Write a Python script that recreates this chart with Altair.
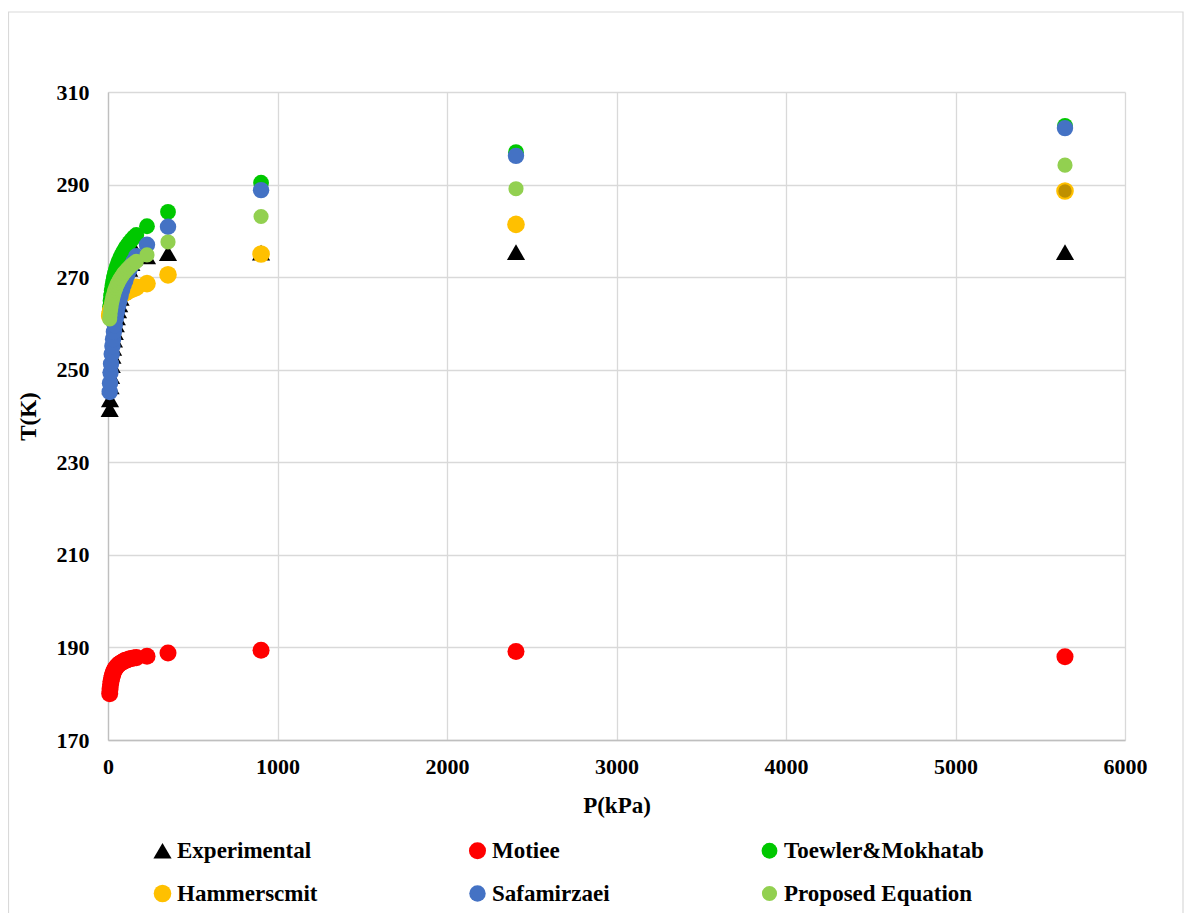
import altair as alt
import pandas as pd

# Pressure (kPa) shared by all series
P = [10, 12, 15, 18, 22, 26, 30, 35, 40, 46, 52, 59, 66, 74, 83, 92, 102, 113,
     125, 138, 152, 167, 230, 354, 903, 2407, 5646]

experimental = [241.5, 243.6, 246.4, 248.6, 251.0, 253.0, 254.7, 256.5, 258.1, 259.8,
                261.3, 262.8, 264.1, 265.5, 266.9, 268.1, 269.4, 270.6, 271.8, 273.0,
                274.2, 275.3, 274.5, 275.2, 275.3, 275.4, 275.4]
motiee = [180.0, 181.0, 182.0, 182.7, 183.4, 184.0, 184.4, 184.9, 185.3, 185.6,
          185.9, 186.2, 186.4, 186.6, 186.8, 187.0, 187.2, 187.3, 187.5, 187.6,
          187.7, 187.8, 188.1, 188.8, 189.4, 189.1, 188.0]
toewler = [262.5, 263.6, 264.9, 266.0, 267.1, 268.1, 269.0, 269.9, 270.7, 271.5,
           272.2, 273.0, 273.6, 274.3, 275.0, 275.6, 276.2, 276.8, 277.4, 278.0,
           278.6, 279.1, 281.0, 284.1, 290.4, 297.0, 302.7]
hammerscmit = [261.6, 262.0, 262.5, 262.9, 263.3, 263.7, 264.0, 264.4, 264.7, 265.0,
               265.2, 265.5, 265.8, 266.0, 266.3, 266.5, 266.7, 266.9, 267.2, 267.4,
               267.6, 267.8, 268.6, 270.5, 275.0, 281.4, 288.6]
safamirzaei = [245.2, 247.1, 249.4, 251.3, 253.4, 255.1, 256.6, 258.2, 259.6, 261.1,
               262.4, 263.7, 264.8, 266.0, 267.2, 268.3, 269.3, 270.4, 271.5, 272.5,
               273.5, 274.5, 277.0, 280.9, 288.8, 296.2, 302.2]
proposed = [261.0, 261.8, 262.8, 263.6, 264.5, 265.2, 265.8, 266.5, 267.1, 267.7,
            268.3, 268.8, 269.3, 269.8, 270.3, 270.8, 271.2, 271.7, 272.1, 272.6,
            273.0, 273.4, 274.8, 277.6, 283.1, 289.1, 294.2]

series_names = ["Experimental", "Motiee", "Toewler&Mokhatab", "Hammerscmit",
                "Safamirzaei", "Proposed Equation"]
series_values = [experimental, motiee, toewler, hammerscmit, safamirzaei, proposed]
series_colors = ["#000000", "#FF0000", "#00C800", "#FFC000", "#4472C4", "#92D050"]
series_shapes = ["triangle-up", "circle", "circle", "circle", "circle", "circle"]
series_sizes = [330, 190, 180, 230, 260, 180]

# legend fills column by column: order entries so rows read like the original
legend_order = ["Experimental", "Hammerscmit", "Motiee", "Safamirzaei",
                "Toewler&Mokhatab", "Proposed Equation"]
idx = [series_names.index(n) for n in legend_order]

rows = []
for i, (name, vals) in enumerate(zip(series_names, series_values)):
    for j, (p, t) in enumerate(zip(P, vals)):
        rows.append({"P": p, "T": t, "series": name, "order": i * 100 + j,
                     "last": j == len(P) - 1})
df = pd.DataFrame(rows)

FONT = "Liberation Serif"
W, H = 1017, 648

x_enc = alt.X("P:Q", scale=alt.Scale(domain=[0, 6000], nice=False),
              axis=alt.Axis(title="P(kPa)", values=[0, 1000, 2000, 3000, 4000, 5000, 6000],
                            format="d", labelPadding=16, titlePadding=17, labelFlush=False))
y_enc = alt.Y("T:Q", scale=alt.Scale(domain=[170, 310], nice=False, zero=False),
              axis=alt.Axis(title="T(K)", values=[170, 190, 210, 230, 250, 270, 290, 310],
                            labelPadding=19, titlePadding=16, labelFlush=False))

points = alt.Chart(df).mark_point(filled=True, opacity=1).encode(
    x=x_enc,
    y=y_enc,
    color=alt.Color("series:N",
                    scale=alt.Scale(domain=legend_order, range=[series_colors[k] for k in idx]),
                    legend=alt.Legend(title=None, orient="none", legendX=43, legendY=747,
                                      columns=3, columnPadding=148, rowPadding=19,
                                      symbolSize=100, labelFont=FONT, labelFontSize=23,
                                      labelFontWeight="bold", labelColor="#000000",
                                      labelOffset=3, symbolStrokeWidth=0, labelLimit=400)),
    shape=alt.Shape("series:N",
                    scale=alt.Scale(domain=legend_order, range=[series_shapes[k] for k in idx]),
                    legend=None),
    size=alt.Size("series:N",
                  scale=alt.Scale(domain=legend_order, range=[series_sizes[k] for k in idx]),
                  legend=None),
    order=alt.Order("order:Q"),
)

last_hammer = alt.Chart(df).transform_filter(
    (alt.datum.series == "Hammerscmit") & (alt.datum.last == True)
).mark_point(filled=True, opacity=1, shape="circle", size=180, color="#BF9000").encode(
    x="P:Q", y="T:Q"
)

frame = alt.Chart(pd.DataFrame({"a": [0]})).mark_rect(
    fill=None, stroke="#D9D9D9", strokeWidth=1.2
).encode(x=alt.value(-99.5), x2=alt.value(1075), y=alt.value(-80), y2=alt.value(900))

chart = alt.layer(frame, points, last_hammer).properties(
    width=W, height=H,
    padding={"left": 100, "top": 84, "right": 59, "bottom": 173},
    autosize=alt.AutoSizeParams(type="none"),
).configure_view(stroke=None).configure_axis(
    labelFont=FONT, labelFontSize=22, labelFontWeight="bold", labelColor="#000000",
    titleFont=FONT, titleFontSize=23, titleFontWeight="bold", titleColor="#000000",
    grid=True, gridColor="#D9D9D9", gridWidth=1.3, domainColor="#BFBFBF", domainWidth=1.3,
    ticks=False,
).configure_axisY(titleAngle=-90)

chart.save("out.html", embed_options={"renderer": "svg", "actions": False})
